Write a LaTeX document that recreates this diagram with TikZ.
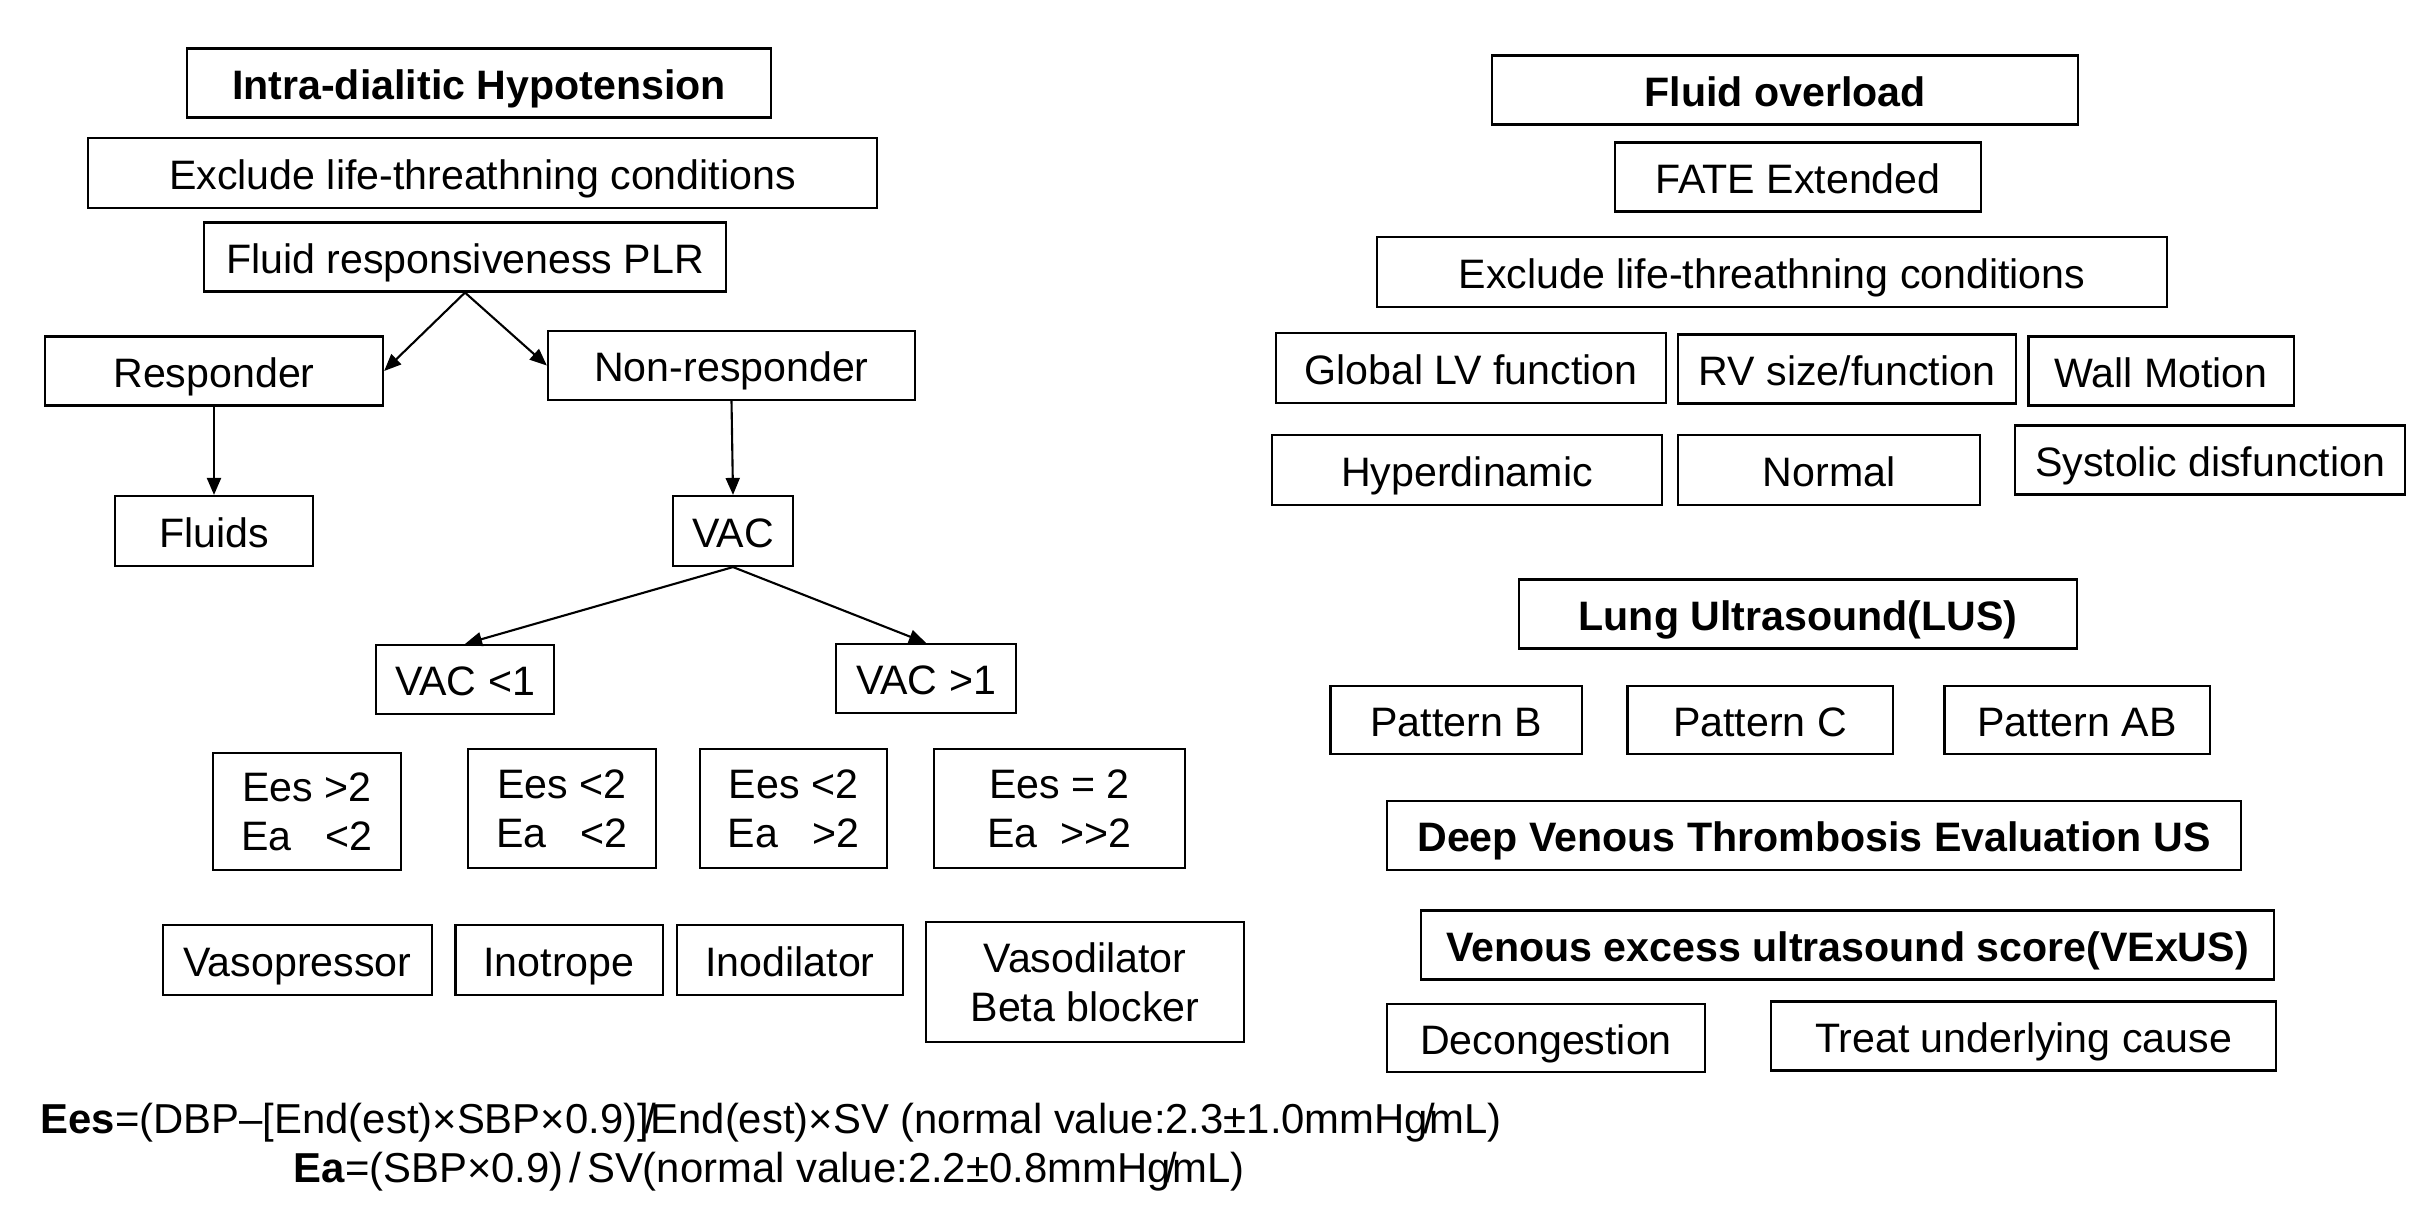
\documentclass[tikz,border=0pt]{standalone}
\usepackage{fontspec}
\setmainfont{Liberation Sans}
\usetikzlibrary{arrows.meta}
\tikzset{
  bx/.style={draw, line width=0.6pt, inner sep=0pt, minimum height=0.69cm, text height=0.32cm, text depth=0pt, align=center},
  bxtwo/.style={draw, line width=0.6pt, inner sep=0pt, align=center},
  arr/.style={line width=0.6pt, -{Triangle[length=0.17cm,width=0.14cm]}},
  formula/.style={inner sep=0pt, anchor=base west, font=\fontsize{11.9pt}{14pt}\selectfont}
}
\begin{document}
\begin{tikzpicture}[x=0.01cm, y=-0.01cm, font=\fontsize{11.7pt}{13.95pt}\selectfont]
\fill[white] (0,0) rectangle (2422,1213);
\useasboundingbox (0,0) rectangle (2422,1213);

% ---- left column ----
\node[bx, minimum width=5.84cm] (ih) at (479,83) {\textbf{Intra-dialitic Hypotension}};
\node[bx, minimum width=7.89cm, minimum height=0.70cm] (exl) at (482.5,173) {Exclude life-threathning conditions};
\node[bx, minimum width=5.22cm] (plr) at (465,257) {Fluid responsiveness PLR};
\node[bx, minimum width=3.38cm] (resp) at (214,371) {Responder};
\node[bx, minimum width=3.67cm] (nonr) at (731.5,365.5) {Non-responder};
\node[bx, minimum width=1.98cm, minimum height=0.70cm] (fluids) at (214,531) {Fluids};
\node[bx, minimum width=1.20cm, minimum height=0.70cm] (vac) at (733,531) {VAC};
\node[bx, minimum width=1.785cm] (vacl) at (465,679.5) {VAC <1};
\node[bx, minimum width=1.80cm] (vacg) at (926,678.5) {VAC >1};

\node[bxtwo, minimum width=1.88cm, minimum height=1.17cm] (ea) at (307,811.5) {Ees >2\\Ea\ \ \ <2};
\node[bxtwo, minimum width=1.875cm, minimum height=1.19cm] (eb) at (562,808.5) {Ees <2\\Ea\ \ \ <2};
\node[bxtwo, minimum width=1.87cm, minimum height=1.19cm] (ec) at (793.5,808.5) {Ees <2\\Ea\ \ \ >2};
\node[bxtwo, minimum width=2.50cm, minimum height=1.19cm] (ed) at (1059.5,808.5) {Ees = 2\\Ea\ \ >{}>2};

\node[bx, minimum width=2.69cm, minimum height=0.705cm] (vp) at (297.5,960) {Vasopressor};
\node[bx, minimum width=2.07cm, minimum height=0.705cm] (ino) at (559,960) {Inotrope};
\node[bx, minimum width=2.26cm, minimum height=0.705cm] (inod) at (790,960) {Inodilator};
\node[bxtwo, minimum width=3.18cm, minimum height=1.20cm] (vd) at (1085,982) {Vasodilator\\Beta blocker};

\draw[arr] (plr.south) -- (resp.east);
\draw[arr] (plr.south) -- (nonr.west);
\draw[arr] (resp.south) -- (fluids.north);
\draw[arr] (nonr.south) -- (vac.north);
\draw[arr] (vac.south) -- (vacl.north);
\draw[arr] (vac.south) -- (vacg.north);

\node[formula] (f1) at (40,1133) {\textbf{Ees}=(DBP–[End(est)×SBP×0.9)]\kern-0.1em/\kern-0.14em End(est)×SV (normal value:2.3±1.0mmHg\kern-0.12em/\kern-0.12em mL)};
\node[formula] (f2) at (293,1182) {\textbf{Ea}=(SBP×0.9)\kern0.14em/\kern0.14em SV(normal value:2.2±0.8mmHg\kern-0.12em/\kern-0.12em mL)};

% ---- right column ----
\node[bx, minimum width=5.85cm] (fo) at (1785,90) {\textbf{Fluid overload}};
\node[bx, minimum width=3.65cm] (fate) at (1798,177) {FATE Extended};
\node[bx, minimum width=7.89cm, minimum height=0.70cm] (exr) at (1772,272) {Exclude life-threathning conditions};
\node[bx, minimum width=3.89cm, minimum height=0.70cm] (glv) at (1471,368) {Global LV function};
\node[bx, minimum width=3.37cm] (rv) at (1847,369) {RV size/function};
\node[bx, minimum width=2.65cm] (wm) at (2161,371) {Wall Motion};
\node[bx, minimum width=3.89cm, minimum height=0.70cm] (hyp) at (1467,470) {Hyperdinamic};
\node[bx, minimum width=3.025cm, minimum height=0.70cm] (norm) at (1829,470) {Normal};
\node[bx, minimum width=3.90cm] (sys) at (2210,460) {Systolic disfunction};
\node[bx, minimum width=5.575cm] (lus) at (1798,614) {\textbf{Lung Ultrasound(LUS)}};
\node[bx, minimum width=2.51cm, minimum height=0.68cm] (pb) at (1456,720) {Pattern B};
\node[bx, minimum width=2.65cm, minimum height=0.68cm] (pc) at (1760,720) {Pattern C};
\node[bx, minimum width=2.65cm, minimum height=0.68cm] (pab) at (2077,720) {Pattern AB};
\node[bx, minimum width=8.53cm] (dvt) at (1814,835.5) {\textbf{Deep Venous Thrombosis Evaluation US}};
\node[bx, minimum width=8.53cm] (vex) at (1847.5,945) {\textbf{Venous excess ultrasound score(VExUS)}};
\node[bx, minimum width=3.17cm, minimum height=0.685cm] (dec) at (1546,1038) {Decongestion};
\node[bx, minimum width=5.04cm] (tuc) at (2023.5,1036) {Treat underlying cause};
\end{tikzpicture}
\end{document}
